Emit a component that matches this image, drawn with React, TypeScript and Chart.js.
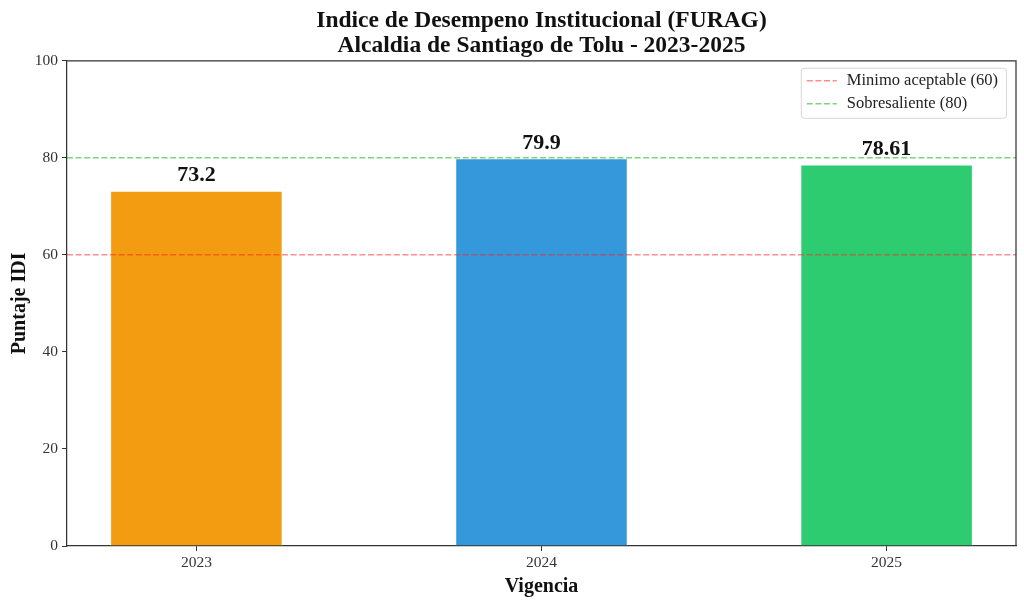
import React, { useEffect, useRef } from "react";
import { Chart, registerables } from "chart.js";

Chart.register(...registerables);

const categories = ["2023", "2024", "2025"];
const scores = [73.2, 79.9, 78.61];
const barColors = ["#f39c12", "#3498db", "#2ecc71"];
const thresholdLabels = ["Minimo aceptable (60)", "Sobresaliente (80)"];
const thresholdValues = [60, 80];
const thresholdColors = ["rgba(255,30,30,0.5)", "rgba(20,175,20,0.55)"];
const yTicks = [0, 20, 40, 60, 80, 100];

const FONT = "'Liberation Serif', 'DejaVu Serif', serif";
const X_MIN = -0.375;
const X_MAX = categories.length - 1 + 0.375;

const framePlugin = {
  id: "frame",
  afterDatasetsDraw(chart: any) {
    const { ctx, chartArea } = chart;
    ctx.save();
    ctx.strokeStyle = "#333333";
    ctx.lineWidth = 1.25;
    ctx.beginPath();
    ctx.moveTo(chartArea.left, chartArea.top);
    ctx.lineTo(chartArea.right, chartArea.top);
    ctx.lineTo(chartArea.right, chartArea.bottom);
    ctx.stroke();
    ctx.restore();
  },
};

const valueLabelPlugin = {
  id: "valueLabels",
  afterDatasetsDraw(chart: any) {
    const { ctx } = chart;
    chart.data.datasets.forEach((ds: any, i: number) => {
      if (ds.type !== "bar") return;
      const meta = chart.getDatasetMeta(i);
      meta.data.forEach((el: any, j: number) => {
        ctx.save();
        ctx.font = `bold 22px ${FONT}`;
        ctx.fillStyle = "#111111";
        ctx.textAlign = "center";
        ctx.textBaseline = "bottom";
        ctx.fillText(String(ds.data[j].y), el.x, el.y - 4);
        ctx.restore();
      });
    });
  },
};

const legendPlugin = {
  id: "innerLegend",
  afterDraw(chart: any) {
    const { ctx, chartArea } = chart;
    const items = chart.data.datasets.filter((d: any) => d.type === "line");
    ctx.save();
    ctx.font = `16.5px ${FONT}`;
    const maxW = Math.max(...items.map((d: any) => ctx.measureText(d.label).width));
    const w = 46 + maxW + 8;
    const rowH = 23;
    const h = items.length * rowH + 4;
    const x = chartArea.right - 10 - w;
    const y = chartArea.top + 7;
    ctx.fillStyle = "rgba(255,255,255,0.85)";
    ctx.strokeStyle = "#d6d6d6";
    ctx.lineWidth = 1;
    ctx.beginPath();
    ctx.roundRect(x + 0.5, y + 0.5, w, h, 3);
    ctx.fill();
    ctx.stroke();
    items.forEach((d: any, i: number) => {
      const cy = y + 13 + i * rowH;
      ctx.strokeStyle = d.borderColor;
      ctx.lineWidth = 1.5;
      ctx.setLineDash(d.borderDash);
      ctx.beginPath();
      ctx.moveTo(x + 6, cy);
      ctx.lineTo(x + 36, cy);
      ctx.stroke();
      ctx.setLineDash([]);
      ctx.fillStyle = "#222222";
      ctx.textAlign = "left";
      ctx.textBaseline = "middle";
      ctx.fillText(d.label, x + 46, cy);
    });
    ctx.restore();
  },
};

export default function App() {
  const canvasRef = useRef<HTMLCanvasElement | null>(null);

  useEffect(() => {
    if (!canvasRef.current) return;
    const tickFont = { family: FONT, size: 15.5 };
    const chart = new Chart(canvasRef.current, {
      type: "bar",
      data: {
        datasets: [
          ...thresholdValues.map((v, i) => ({
            type: "line" as const,
            label: thresholdLabels[i],
            data: [
              { x: X_MIN, y: v },
              { x: X_MAX, y: v },
            ],
            borderColor: thresholdColors[i],
            borderWidth: 1.5,
            borderDash: [6, 2.6],
            pointRadius: 0,
            fill: false,
            order: 0,
          })),
          {
            type: "bar" as const,
            label: "Puntaje",
            data: categories.map((_, i) => ({ x: i, y: scores[i] })),
            backgroundColor: barColors,
            borderColor: "rgba(255,255,255,0.8)",
            borderWidth: 1,
            barPercentage: 0.5,
            categoryPercentage: 1,
            order: 1,
          },
        ],
      } as any,
      options: {
        animation: false,
        responsive: true,
        maintainAspectRatio: false,
        layout: { padding: { left: 0, right: 8, top: 0, bottom: 0 } },
        plugins: {
          legend: { display: false },
          tooltip: { enabled: false },
          title: {
            display: true,
            fullSize: false,
            text: [
              "Indice de Desempeno Institucional (FURAG)",
              "Alcaldia de Santiago de Tolu - 2023-2025",
            ],
            color: "#111111",
            font: { family: FONT, size: 23.5, weight: "bold", lineHeight: 1.08 },
            padding: { top: 8, bottom: 2 },
          },
        },
        scales: {
          x: {
            type: "linear",
            min: X_MIN,
            max: X_MAX,
            offset: false,
            afterBuildTicks: (scale: any) => {
              scale.ticks = categories.map((_, i) => ({ value: i }));
            },
            afterFit: (scale: any) => {
              scale.height = 62;
            },
            ticks: {
              callback: (v: any) => categories[Math.round(Number(v))] ?? "",
              color: "#333333",
              font: tickFont,
              padding: 3,
              maxRotation: 0,
              autoSkip: false,
            },
            grid: {
              display: true,
              offset: false,
              drawOnChartArea: false,
              drawTicks: true,
              tickLength: 5,
              tickColor: "#333333",
              tickWidth: 1,
            },
            border: { display: true, color: "#333333", width: 1.25 },
            title: {
              display: true,
              text: "Vigencia",
              color: "#111111",
              font: { family: FONT, size: 20, weight: "bold", lineHeight: 1.2 },
              padding: { top: 0, bottom: 9 },
            },
          },
          y: {
            min: 0,
            max: 100,
            afterBuildTicks: (scale: any) => {
              scale.ticks = yTicks.map((v) => ({ value: v }));
            },
            afterFit: (scale: any) => {
              scale.width = 67;
            },
            ticks: {
              color: "#333333",
              font: tickFont,
              padding: 4,
            },
            grid: {
              display: true,
              drawOnChartArea: false,
              drawTicks: true,
              tickLength: 5,
              tickColor: "#333333",
              tickWidth: 1,
            },
            border: { display: true, color: "#333333", width: 1.25 },
            title: {
              display: true,
              text: "Puntaje IDI",
              color: "#111111",
              font: { family: FONT, size: 20, weight: "bold", lineHeight: 1.2 },
              padding: { top: 8, bottom: 0 },
            },
          },
        },
      } as any,
      plugins: [framePlugin, valueLabelPlugin, legendPlugin],
    });
    return () => chart.destroy();
  }, []);

  return (
    <div
      style={{
        position: "absolute",
        left: 0,
        top: 0,
        width: 1024,
        height: 608,
        background: "#ffffff",
      }}
    >
      <canvas ref={canvasRef} />
    </div>
  );
}
